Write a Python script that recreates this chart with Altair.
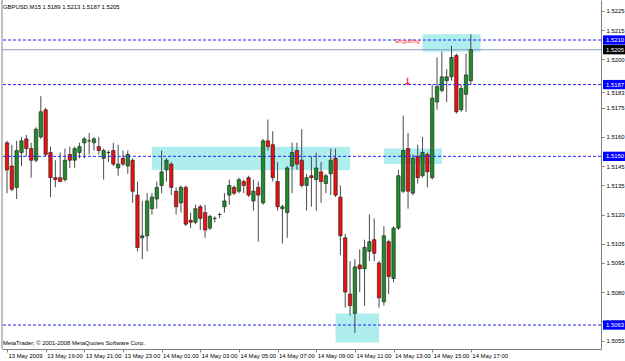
import altair as alt
import pandas as pd

# ---- OHLC of the 97 M15 bars (13 May 17:00 .. 14 May 17:00) ----
opens = [1.5157, 1.5145, 1.5134, 1.5152, 1.5159, 1.5154, 1.5148, 1.5160, 1.5174, 1.5152,
         1.5139, 1.5139, 1.5138, 1.5151, 1.5148, 1.5152, 1.5157, 1.5158, 1.5157, 1.5155,
         1.5149, 1.5152, 1.5153, 1.5144, 1.5149, 1.5145, 1.5148, 1.5130, 1.5108, 1.5109,
         1.5123, 1.5128, 1.5135, 1.5143, 1.5146, 1.5132, 1.5126, 1.5134, 1.5117, 1.5116,
         1.5124, 1.5121, 1.5113, 1.5118, 1.5120, 1.5124, 1.5130, 1.5134, 1.5132, 1.5137,
         1.5139, 1.5127, 1.5134, 1.5126, 1.5158, 1.5156, 1.5137, 1.5123, 1.5121, 1.5145,
         1.5153, 1.5148, 1.5135, 1.5140, 1.5138, 1.5142, 1.5136, 1.5141, 1.5149, 1.5129,
         1.5108, 1.5079, 1.5069, 1.5094, 1.5092, 1.5101, 1.5107, 1.5095, 1.5075, 1.5106,
         1.5087, 1.5113, 1.5132, 1.5154, 1.5131, 1.5150, 1.5140, 1.5151, 1.5139, 1.5178,
         1.5184, 1.5189, 1.5191, 1.5202, 1.5174, 1.5182, 1.5189]
highs = [1.5158, 1.5156, 1.5158, 1.5160, 1.5161, 1.5157, 1.5165, 1.5181, 1.5175, 1.5155,
         1.5148, 1.5152, 1.5154, 1.5155, 1.5155, 1.5157, 1.5160, 1.5162, 1.5160, 1.5160,
         1.5154, 1.5153, 1.5157, 1.5156, 1.5153, 1.5153, 1.5149, 1.5137, 1.5127, 1.5131,
         1.5131, 1.5137, 1.5153, 1.5149, 1.5147, 1.5134, 1.5135, 1.5135, 1.5121, 1.5125,
         1.5125, 1.5125, 1.5120, 1.5119, 1.5121, 1.5131, 1.5138, 1.5135, 1.5139, 1.5138,
         1.5140, 1.5138, 1.5137, 1.5159, 1.5169, 1.5163, 1.5147, 1.5125, 1.5145, 1.5157,
         1.5157, 1.5164, 1.5141, 1.5150, 1.5152, 1.5147, 1.5141, 1.5154, 1.5154, 1.5135,
         1.5110, 1.5096, 1.5097, 1.5102, 1.5107, 1.5120, 1.5118, 1.5096, 1.5114, 1.5107,
         1.5114, 1.5143, 1.5171, 1.5162, 1.5151, 1.5156, 1.5160, 1.5152, 1.5187, 1.5201,
         1.5204, 1.5195, 1.5207, 1.5203, 1.5187, 1.5203, 1.5213]
lows = [1.5131, 1.5132, 1.5128, 1.5145, 1.5150, 1.5139, 1.5147, 1.5159, 1.5150, 1.5129,
        1.5134, 1.5137, 1.5137, 1.5144, 1.5144, 1.5149, 1.5149, 1.5151, 1.5153, 1.5151,
        1.5138, 1.5147, 1.5145, 1.5140, 1.5145, 1.5141, 1.5126, 1.5101, 1.5097, 1.5101,
        1.5120, 1.5123, 1.5131, 1.5137, 1.5130, 1.5120, 1.5121, 1.5114, 1.5113, 1.5115,
        1.5112, 1.5108, 1.5112, 1.5116, 1.5118, 1.5121, 1.5125, 1.5130, 1.5131, 1.5131,
        1.5129, 1.5122, 1.5106, 1.5125, 1.5153, 1.5137, 1.5122, 1.5105, 1.5108, 1.5131,
        1.5143, 1.5134, 1.5122, 1.5124, 1.5122, 1.5126, 1.5131, 1.5130, 1.5129, 1.5099,
        1.5072, 1.5068, 1.5059, 1.5080, 1.5073, 1.5096, 1.5096, 1.5072, 1.5073, 1.5079,
        1.5085, 1.5112, 1.5131, 1.5123, 1.5130, 1.5136, 1.5139, 1.5134, 1.5138, 1.5174,
        1.5183, 1.5178, 1.5189, 1.5172, 1.5173, 1.5173, 1.5187]
closes = [1.5143, 1.5133, 1.5153, 1.5158, 1.5154, 1.5148, 1.5164, 1.5173, 1.5151, 1.5139,
          1.5138, 1.5137, 1.5148, 1.5148, 1.5154, 1.5155, 1.5159, 1.5158, 1.5159, 1.5153,
          1.5153, 1.5152, 1.5146, 1.5146, 1.5146, 1.5151, 1.5132, 1.5103, 1.5109, 1.5127,
          1.5129, 1.5134, 1.5142, 1.5148, 1.5134, 1.5124, 1.5134, 1.5115, 1.5116, 1.5123,
          1.5118, 1.5112, 1.5119, 1.5118, 1.5120, 1.5127, 1.5135, 1.5131, 1.5138, 1.5135,
          1.5130, 1.5132, 1.5130, 1.5158, 1.5155, 1.5139, 1.5124, 1.5124, 1.5144, 1.5152,
          1.5146, 1.5135, 1.5139, 1.5139, 1.5144, 1.5137, 1.5140, 1.5148, 1.5130, 1.5109,
          1.5080, 1.5073, 1.5093, 1.5092, 1.5103, 1.5106, 1.5100, 1.5077, 1.5109, 1.5088,
          1.5113, 1.5140, 1.5153, 1.5132, 1.5149, 1.5139, 1.5152, 1.5142, 1.5180, 1.5186,
          1.5191, 1.5191, 1.5201, 1.5173, 1.5185, 1.5192, 1.5205]

# ---- axes ----
x_tick_values = [0, 8, 16, 24, 32, 40, 48, 56, 64, 72, 80, 88, 96]
x_tick_labels = ['13 May 2009', '13 May 19:00', '13 May 21:00', '13 May 23:00',
                 '14 May 01:00', '14 May 03:00', '14 May 05:00', '14 May 07:00',
                 '14 May 09:00', '14 May 11:00', '14 May 13:00', '14 May 15:00',
                 '14 May 17:00']
y_tick_values = [1.5225, 1.5215, 1.5200, 1.5183, 1.5175, 1.5160, 1.5145, 1.5135,
                 1.5120, 1.5105, 1.5095, 1.5080, 1.5065, 1.5055]

# ---- drawn objects ----
zone_start = [30, 78, 86, 68]
zone_end = [71, 90, 98, 77]
zone_top = [1.5155, 1.5154, 1.5213, 1.5069]
zone_bottom = [1.5143, 1.5146, 1.5204, 1.5054]

dashed_levels = [1.5210, 1.5187, 1.5150, 1.5063]
bid_level = [1.5205]

signal_text = ['Engulfing']
signal_bar = [82.9]
signal_price = [1.52093]
arrow_text = ['\u2193']
arrow_bar = [82.9]
arrow_price = [1.51885]

symbol = 'GBPUSD,M15'
header = f"{symbol}  {opens[-1]:.4f} {highs[-1]:.4f} {lows[-1]:.4f} {closes[-1]:.4f}"
copyright_txt = 'MetaTrader, \u00a9 2001-2008 MetaQuotes Software Corp.'

FONT = 'Liberation Sans'
FS = 5.9

bars = pd.DataFrame({'i': list(range(len(opens))), 'open': opens, 'high': highs,
                     'low': lows, 'close': closes})
up = bars[bars['close'] >= bars['open']]
down = bars[bars['close'] < bars['open']]

zones = pd.DataFrame({'s': zone_start, 'e': zone_end, 't': zone_top, 'b': zone_bottom})
dashed = pd.DataFrame({'p': dashed_levels, 'txt': [f"{v:.4f}" for v in dashed_levels]})
bid = pd.DataFrame({'p': bid_level, 'txt': [f"{v:.4f}" for v in bid_level]})
sig = pd.DataFrame({'i': signal_bar, 'p': signal_price, 't': signal_text})
arr = pd.DataFrame({'i': arrow_bar, 'p': arrow_price, 't': arrow_text})

xs = alt.Scale(domain=[0, 121.9], nice=False, zero=False)
ys = alt.Scale(domain=[1.505064, 1.523063], nice=False, zero=False)

lab_arr = "[" + ",".join("'%s'" % s for s in x_tick_labels) + "]"
val_arr = "[" + ",".join(str(v) for v in x_tick_values) + "]"
xaxis = alt.Axis(values=x_tick_values, labelExpr=f"{lab_arr}[indexof({val_arr}, datum.value)]",
                 labelAlign='left', labelBaseline='top', labelPadding=0, labelOffset=1,
                 tickSize=3, tickColor='#808080', domainColor='#808080',
                 labelFont=FONT, labelFontSize=FS, labelColor='black', grid=False,
                 labelOverlap=False, labelFlush=False, labelBound=False, title=None)
yaxis = alt.Axis(orient='right', values=y_tick_values, format='.4f',
                 labelAlign='left', labelBaseline='middle', labelPadding=2,
                 tickSize=3, tickColor='#808080', domainColor='#808080',
                 labelFont=FONT, labelFontSize=FS, labelColor='black', grid=False,
                 labelOverlap=False, labelFlush=False, labelBound=False, title=None)


def X(f):
    return alt.X(f, type='quantitative', scale=xs, axis=xaxis)


def Y(f):
    return alt.Y(f, type='quantitative', scale=ys, axis=yaxis)


zone_layer = alt.Chart(zones).mark_rect(color='#aeeeee', clip=True).encode(
    x=X('s'), x2='e', y=Y('t'), y2='b')

bid_layer = alt.Chart(bid).mark_rule(color='#8f9cc8', strokeWidth=1).encode(y=Y('p'))

wick_layer = alt.Chart(bars).mark_rule(color='#4a4a4a', strokeWidth=1, clip=True).encode(
    x=X('i'), y=Y('low'), y2='high')

up_layer = alt.Chart(up).mark_bar(size=3.4, color='#1e8c28', stroke='#1a1a1a',
                                  strokeWidth=0.6, clip=True).encode(
    x=X('i'), y=Y('open'), y2='close')
down_layer = alt.Chart(down).mark_bar(size=3.4, color='#f01010', stroke='#1a1a1a',
                                      strokeWidth=0.6, clip=True).encode(
    x=X('i'), y=Y('open'), y2='close')

dash_layer = alt.Chart(dashed).mark_rule(color='#2020ff', strokeWidth=1,
                                         strokeDash=[3, 2]).encode(y=Y('p'))

sig_layer = alt.Chart(sig).mark_text(color='#ff3030', font=FONT, fontSize=FS,
                                     align='center', baseline='middle').encode(
    x=X('i'), y=Y('p'), text='t')
arr_layer = alt.Chart(arr).mark_text(color='#ff2020', font='DejaVu Sans', fontSize=10,
                                     fontWeight='bold', align='center',
                                     baseline='middle').encode(
    x=X('i'), y=Y('p'), text='t')


def price_tag(df, fill):
    box = alt.Chart(df).transform_calculate(
        top='datum.p + 0.00024', bot='datum.p - 0.00024').mark_rect(
        color=fill, clip=False).encode(
        x=alt.value(601), x2=alt.value(623), y=Y('top:Q'), y2='bot:Q')
    txt = alt.Chart(df).mark_text(color='white', font=FONT, fontSize=FS,
                                  align='left', baseline='middle', clip=False).encode(
        x=alt.value(604), y=Y('p'), text='txt')
    return box, txt


line_box, line_txt = price_tag(dashed, '#0000ff')
bid_box, bid_txt = price_tag(bid, '#000000')

head_layer = alt.Chart(pd.DataFrame({'t': [header]})).mark_text(
    font=FONT, fontSize=FS, color='black', align='left', baseline='middle').encode(
    x=alt.value(1), y=alt.value(7), text='t')
copy_layer = alt.Chart(pd.DataFrame({'t': [copyright_txt]})).mark_text(
    font=FONT, fontSize=FS, color='black', align='left', baseline='middle').encode(
    x=alt.value(1), y=alt.value(343), text='t')

border = alt.Chart(pd.DataFrame({'a': [0]})).mark_rule(color='#808080').encode(
    x=alt.value(0), y=alt.value(0), y2=alt.value(349))

chart = alt.layer(zone_layer, bid_layer, wick_layer, up_layer, down_layer, dash_layer,
                  sig_layer, arr_layer, line_box, line_txt, bid_box, bid_txt,
                  head_layer, copy_layer, border).properties(
    width=599, height=349,
    padding={'left': 2, 'top': 0, 'right': 24, 'bottom': 12},
    autosize=alt.AutoSizeParams(type='none'),
    background='white'
).configure_view(stroke=None)

chart.save("out.html", embed_options={"renderer": "svg", "actions": False})
